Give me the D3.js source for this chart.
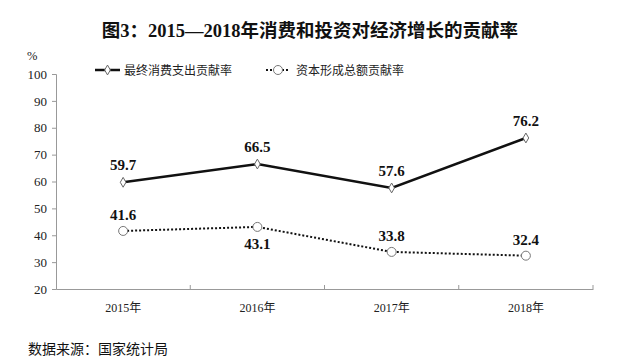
<!DOCTYPE html>
<html>
<head>
<meta charset="utf-8">
<script src="https://d3js.org/d3.v7.min.js"></script>
<style>
  * { margin: 0; padding: 0; }
  body { background: #fff; }
</style>
</head>
<body>
<div id="chart"></div>
<script>
// data
const years = ["2015年", "2016年", "2017年", "2018年"];
const consumption = [59.7, 66.5, 57.6, 76.2];
const investment = [41.6, 43.1, 33.8, 32.4];
const yTicks = [20, 30, 40, 50, 60, 70, 80, 90, 100];
const seriesNames = ["最终消费支出贡献率", "资本形成总额贡献率"];

const width = 620, height = 362;
const margin = {top: 74, right: 27, bottom: 73, left: 56};
const serif = "'Liberation Serif', 'Times New Roman', 'Noto Sans CJK SC', serif";
const cjk = "'Noto Sans CJK SC', sans-serif";

const svg = d3.select("#chart").append("svg")
    .attr("width", width)
    .attr("height", height);

const x = d3.scaleBand()
    .domain(years)
    .range([margin.left, width - margin.right]);

const y = d3.scaleLinear()
    .domain([20, 100])
    .range([height - margin.bottom, margin.top]);

const cx = d => x(d) + x.bandwidth() / 2;

// title
svg.append("text")
    .attr("x", 310).attr("y", 37)
    .attr("text-anchor", "middle")
    .style("font-family", serif)
    .style("font-size", "18.5px")
    .style("font-weight", "bold")
    .attr("fill", "#111")
    .text("图3：2015—2018年消费和投资对经济增长的贡献率");

// y axis
const yAxis = svg.append("g")
    .attr("transform", `translate(${margin.left},0)`)
    .call(d3.axisLeft(y).tickValues(yTicks).tickSize(4).tickPadding(5));
yAxis.selectAll("text")
    .style("font-family", serif).style("font-size", "13px").attr("fill", "#222");
yAxis.selectAll("line, path").attr("stroke", "#999");

svg.append("text")
    .attr("x", 27).attr("y", 60)
    .style("font-family", serif).style("font-size", "12.5px").attr("fill", "#222")
    .text("%");

// x axis
const xAxis = svg.append("g")
    .attr("transform", `translate(0,${height - margin.bottom})`)
    .call(d3.axisBottom(x).tickSize(0).tickPadding(14));
xAxis.select(".domain").attr("stroke", "#999");
xAxis.selectAll("text")
    .style("font-family", serif).style("font-size", "12px").attr("fill", "#222");
// tick marks on the category boundaries
svg.append("g").selectAll("line")
    .data(years)
    .join("line")
    .attr("x1", d => x(d) + x.bandwidth()).attr("x2", d => x(d) + x.bandwidth())
    .attr("y1", height - margin.bottom).attr("y2", height - margin.bottom - 4)
    .attr("stroke", "#999");

const line = d3.line()
    .x((d, i) => cx(years[i]))
    .y(d => y(d));

// investment series (dotted)
svg.append("path")
    .datum(investment)
    .attr("d", line)
    .attr("fill", "none")
    .attr("stroke", "#111")
    .attr("stroke-width", 2)
    .attr("stroke-dasharray", "2,2");

// consumption series (solid)
svg.append("path")
    .datum(consumption)
    .attr("d", line)
    .attr("fill", "none")
    .attr("stroke", "#111")
    .attr("stroke-width", 2.5);

const diamond = d3.symbol().type(d3.symbolDiamond).size(28);

svg.append("g").selectAll("path")
    .data(consumption)
    .join("path")
    .attr("d", diamond)
    .attr("transform", (d, i) => `translate(${cx(years[i])},${y(d)})`)
    .attr("fill", "#fff").attr("stroke", "#666").attr("stroke-width", 1);

svg.append("g").selectAll("circle")
    .data(investment)
    .join("circle")
    .attr("cx", (d, i) => cx(years[i]))
    .attr("cy", d => y(d))
    .attr("r", 4.5)
    .attr("fill", "#fff").attr("stroke", "#777").attr("stroke-width", 1);

// value labels
const labelStyle = sel => sel
    .attr("text-anchor", "middle")
    .style("font-family", serif)
    .style("font-size", "15px")
    .style("font-weight", "bold")
    .attr("fill", "#111");

svg.append("g").selectAll("text")
    .data(consumption)
    .join("text")
    .attr("x", (d, i) => cx(years[i]))
    .attr("y", d => y(d) - 12)
    .call(labelStyle)
    .text(d => d.toFixed(1));

svg.append("g").selectAll("text")
    .data(investment)
    .join("text")
    .attr("x", (d, i) => cx(years[i]))
    .attr("y", (d, i) => i === 1 ? y(d) + 22 : y(d) - 11)
    .call(labelStyle)
    .text(d => d.toFixed(1));

// legend
const legend = svg.append("g").attr("transform", "translate(95,70)");
legend.append("line")
    .attr("x1", 0).attr("x2", 25).attr("y1", 0).attr("y2", 0)
    .attr("stroke", "#111").attr("stroke-width", 2.5);
legend.append("path")
    .attr("d", diamond)
    .attr("transform", "translate(12.5,0)")
    .attr("fill", "#fff").attr("stroke", "#666");
legend.append("text")
    .attr("x", 29).attr("y", 4.5)
    .style("font-family", cjk).style("font-size", "12px").attr("fill", "#222")
    .text(seriesNames[0]);

const legend2 = svg.append("g").attr("transform", "translate(266,70)");
legend2.append("line")
    .attr("x1", 0).attr("x2", 24).attr("y1", 0).attr("y2", 0)
    .attr("stroke", "#111").attr("stroke-width", 2).attr("stroke-dasharray", "2,2");
legend2.append("circle")
    .attr("cx", 12).attr("cy", 0).attr("r", 4.5)
    .attr("fill", "#fff").attr("stroke", "#777");
legend2.append("text")
    .attr("x", 30).attr("y", 4.5)
    .style("font-family", cjk).style("font-size", "12px").attr("fill", "#222")
    .text(seriesNames[1]);

// source note
svg.append("text")
    .attr("x", 28).attr("y", 354)
    .style("font-family", cjk).style("font-size", "14px").attr("fill", "#111")
    .text("数据来源：国家统计局");
</script>
</body>
</html>
